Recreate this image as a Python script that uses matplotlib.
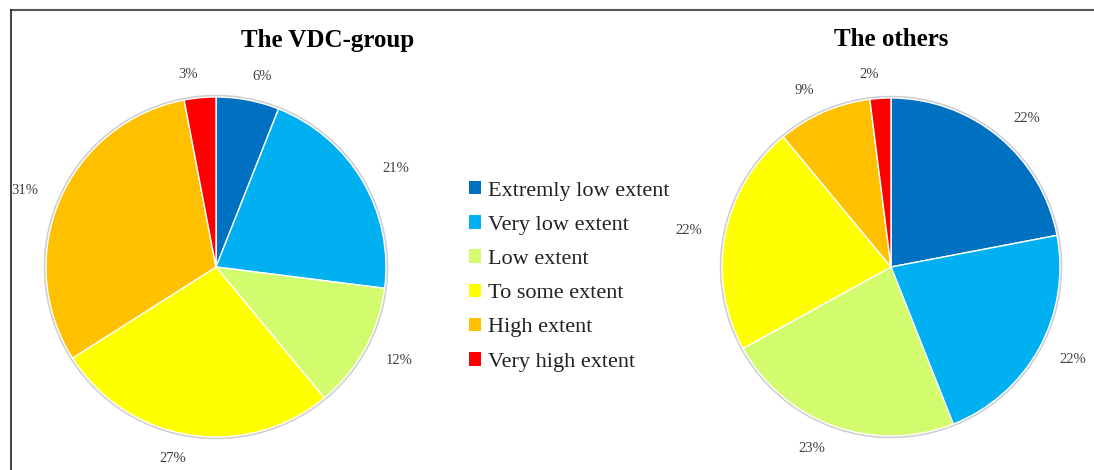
import matplotlib
matplotlib.use("Agg")
import matplotlib.pyplot as plt
from matplotlib.patches import Patch, Circle
from matplotlib.lines import Line2D

categories = ["Extremly low extent", "Very low extent", "Low extent",
              "To some extent", "High extent", "Very high extent"]
vdc_group = [6, 21, 12, 27, 31, 3]
others = [22, 22, 23, 22, 9, 2]
colors = ["#0070C0", "#00B0F0", "#D2FB6E", "#FFFF00", "#FFC000", "#FF0000"]

W, H = 1094, 470
fig = plt.figure(figsize=(W / 100, H / 100), dpi=100)
fig.patch.set_facecolor("white")

SERIF = ["Liberation Serif", "DejaVu Serif"]
PAD = 1.1  # axes half-width in units of the pie radius


def px_axes(cx, cy, r):
    R = r * PAD
    return fig.add_axes([(cx - R) / W, (H - cy - R) / H, 2 * R / W, 2 * R / H])


def draw_pie(ax, values):
    ax.add_patch(Circle((0, 0), 1.006, facecolor="none", edgecolor="#cfcfcf",
                        linewidth=1.8, zorder=0))
    ax.pie(values, colors=colors, startangle=90, counterclock=False,
           labels=[f"{v}%" for v in values], labeldistance=1.14,
           wedgeprops=dict(edgecolor="white", linewidth=1.0),
           textprops=dict(fontfamily=SERIF, fontsize=10.5, color="#404040"))
    ax.set_xlim(-PAD, PAD)
    ax.set_ylim(-PAD, PAD)
    ax.set_aspect("equal")
    ax.axis("off")


ax1 = px_axes(216, 267, 170)
draw_pie(ax1, vdc_group)
ax2 = px_axes(891, 267, 169)
draw_pie(ax2, others)

fig.text(328 / W, 1 - 40 / H, "The VDC-group", ha="center", va="center",
         fontfamily=SERIF, fontsize=18, fontweight="bold", color="black")
fig.text(891 / W, 1 - 40 / H, "The others", ha="center", va="center",
         fontfamily=SERIF, fontsize=18, fontweight="bold", color="black")

handles = [Patch(facecolor=c, edgecolor="none") for c in colors]
fig.legend(handles, categories, loc="upper left",
           bbox_to_anchor=(469 / W, 1 - 181 / H), frameon=False,
           prop=dict(family=SERIF, size=16), labelcolor="#222222",
           handlelength=0.55, handleheight=0.55, handletextpad=0.3,
           labelspacing=0.66, borderpad=0, borderaxespad=0)

# border of the panel
fig.add_artist(Line2D([11 / W, 1.0], [1 - 10 / H, 1 - 10 / H],
                      transform=fig.transFigure, color="#555555", linewidth=1.5))
fig.add_artist(Line2D([11 / W, 11 / W], [0, 1 - 10 / H],
                      transform=fig.transFigure, color="#222222", linewidth=1.2))

fig.savefig("out.png", dpi=100, facecolor="white")
